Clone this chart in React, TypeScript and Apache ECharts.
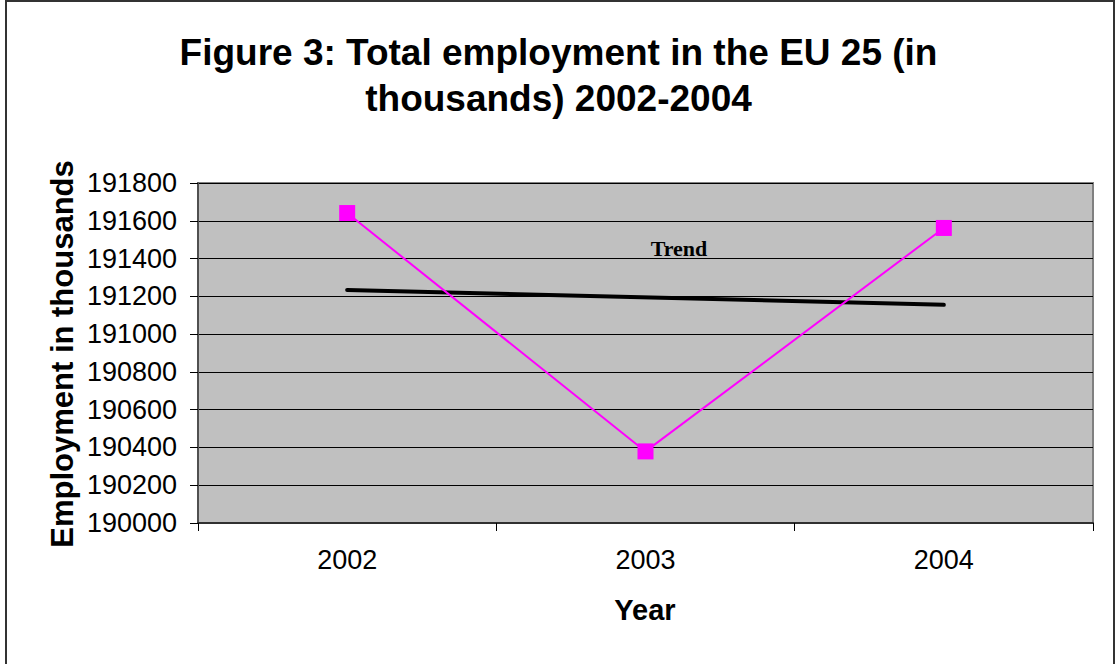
import React, { useEffect, useRef } from "react";
import * as echarts from "echarts";

const years = ["2002", "2003", "2004"];
const employment = [191641, 190379, 191562];
const trend = [191234, null, 191155];
const yTicks = { min: 190000, max: 191800, interval: 200 };
const titleText = "Figure 3: Total employment in the EU 25 (in\nthousands) 2002-2004";
const yTitle = "Employment in thousands";
const xTitle = "Year";
const trendLabel = "Trend";

const SANS = "'Liberation Sans', Arial, sans-serif";
const SERIF = "'Liberation Serif', 'Times New Roman', serif";

export default function App() {
  const ref = useRef<HTMLDivElement>(null);
  useEffect(() => {
    document.body.style.margin = "0";
    const chart = echarts.init(ref.current!, null, { renderer: "svg" });
    chart.setOption({
      animation: false,
      backgroundColor: "#ffffff",
      title: {
        text: titleText,
        left: "center",
        top: 24,
        textStyle: {
          fontFamily: SANS,
          fontSize: 37,
          fontWeight: "bold",
          color: "#000",
          lineHeight: 46,
        },
      },
      grid: {
        left: 198,
        top: 183,
        right: 24,
        bottom: 141,
        show: true,
        backgroundColor: "#c0c0c0",
        borderColor: "#808080",
        borderWidth: 2,
        outerBoundsMode: "none",
        containLabel: false,
      },
      xAxis: {
        type: "category",
        data: years,
        boundaryGap: true,
        axisLine: { show: true, lineStyle: { color: "#303030", width: 2 } },
        axisTick: { show: true, length: 8, lineStyle: { color: "#000", width: 1 } },
        axisLabel: { fontFamily: SANS, fontSize: 27, color: "#000", margin: 23 },
        splitLine: { show: false },
      },
      yAxis: {
        type: "value",
        min: yTicks.min,
        max: yTicks.max,
        interval: yTicks.interval,
        axisLine: { show: true, lineStyle: { color: "#505050", width: 2 } },
        axisTick: { show: true, length: 8, lineStyle: { color: "#000", width: 1 } },
        axisLabel: {
          fontFamily: SANS,
          fontSize: 27,
          color: "#000",
          margin: 21,
          formatter: (v: number) => String(v),
        },
        splitLine: { show: true, lineStyle: { color: "#000", width: 1 } },
      },
      series: [
        {
          name: "Employment",
          type: "line",
          data: employment,
          symbol: "rect",
          symbolSize: 16,
          lineStyle: { color: "#ff00ff", width: 2 },
          itemStyle: { color: "#ff00ff" },
          z: 3,
        },
        {
          name: "Trend",
          type: "line",
          data: trend,
          connectNulls: true,
          symbol: "none",
          lineStyle: { color: "#000", width: 4, cap: "round" },
          z: 2,
        },
      ],
      graphic: [
        {
          type: "rect",
          shape: { x: 6, y: 1, width: 1108, height: 670 },
          style: { fill: "none", stroke: "#333", lineWidth: 2 },
          silent: true,
        },
        {
          type: "text",
          x: 62,
          y: 354,
          rotation: Math.PI / 2,
          style: {
            text: yTitle,
            fontFamily: SANS,
            fontSize: 31,
            fontWeight: "bold",
            fill: "#000",
            align: "center",
            verticalAlign: "middle",
          },
        },
        {
          type: "text",
          x: 645,
          y: 610,
          style: {
            text: xTitle,
            fontFamily: SANS,
            fontSize: 29,
            fontWeight: "bold",
            fill: "#000",
            align: "center",
            verticalAlign: "middle",
          },
        },
        {
          type: "text",
          x: 679,
          y: 248,
          style: {
            text: trendLabel,
            fontFamily: SERIF,
            fontSize: 22,
            fontWeight: "bold",
            fill: "#000",
            align: "center",
            verticalAlign: "middle",
          },
        },
      ],
    });
    return () => chart.dispose();
  }, []);
  return <div ref={ref} style={{ width: 1117, height: 664 }} />;
}
